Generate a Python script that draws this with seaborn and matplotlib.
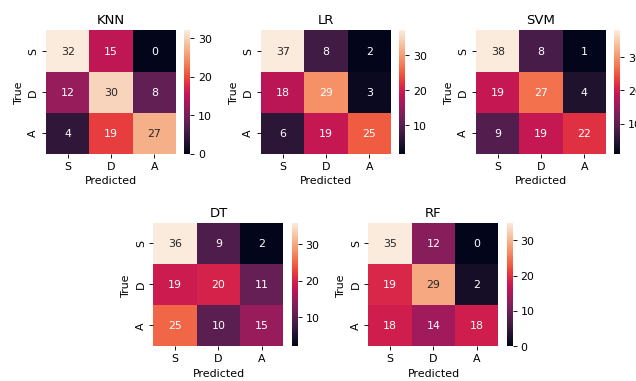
import seaborn as sns
import matplotlib.pyplot as plt
import numpy as np

labels = ['S', 'D', 'A']
models = ['KNN', 'LR', 'SVM', 'DT', 'RF']

knn = [[32, 15, 0], [12, 30, 8], [4, 19, 27]]
lr = [[37, 8, 2], [18, 29, 3], [6, 19, 25]]
svm = [[38, 8, 1], [19, 27, 4], [9, 19, 22]]
dt = [[36, 9, 2], [19, 20, 11], [25, 10, 15]]
rf = [[35, 12, 0], [19, 29, 2], [18, 14, 18]]

matrices = [knn, lr, svm, dt, rf]

# 8 x 4.8 inch figure rendered small, so the text comes out ~80% size
fig = plt.figure(figsize=(8, 4.8), dpi=79.5)
# 6 column grid so the bottom two plots sit centred under the top three
gs = fig.add_gridspec(2, 6, left=0.0723, right=1.0039, top=0.9186, bottom=0.0919,
                      wspace=0.9545, hspace=0.561)
slots = [gs[0, 0:2], gs[0, 2:4], gs[0, 4:6], gs[1, 1:3], gs[1, 3:5]]

for name, cm, slot in zip(models, matrices, slots):
    ax = fig.add_subplot(slot)
    sns.heatmap(np.array(cm), annot=True, fmt='d', ax=ax,
                xticklabels=labels, yticklabels=labels)
    ax.set_title(name)
    ax.set_xlabel('Predicted')
    ax.set_ylabel('True')

plt.savefig('out.png', dpi=79.5)
